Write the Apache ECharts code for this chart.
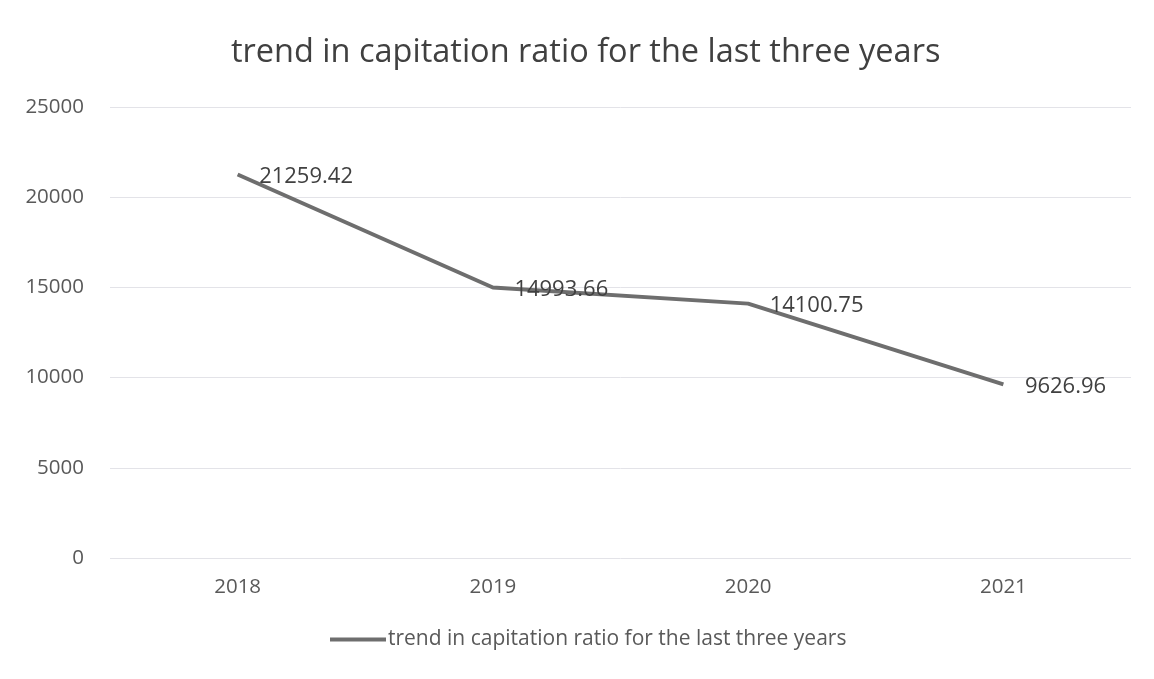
<!DOCTYPE html>
<html><head><meta charset="utf-8">
<script src="https://cdn.jsdelivr.net/npm/echarts@6/dist/echarts.min.js"></script>
<style>html,body{margin:0;padding:0;background:#fff}#c{width:1154px;height:679px}</style>
</head><body><div id="c"></div>
<script>
const categories = ['2018','2019','2020','2021'];
const values = [21259.42, 14993.66, 14100.75, 9626.96];
const seriesName = 'trend in capitation ratio for the last three years';
const titleText = 'trend in capitation ratio for the last three years';
const font = '"Open Sans", sans-serif';
const chart = echarts.init(document.getElementById('c'));
chart.setOption({
  animation: false,
  backgroundColor: '#fff',
  title: { text: titleText, left: 226, top: 31,
    textStyle: { fontFamily: font, fontSize: 32.5, fontWeight: 'normal', color: '#404040' } },
  grid: { left: 110, right: 23, top: 107, bottom: 121 },
  legend: { bottom: 24, left: 325, itemWidth: 56, itemHeight: 4, itemGap: 2,
    icon: 'rect', itemStyle: { color: '#6e6e6e', opacity: 1 },
    textStyle: { fontFamily: font, fontSize: 21, color: '#595959', padding: [0,0,0,-3] } },
  xAxis: { type: 'category', data: categories, boundaryGap: true,
    axisLine: { show: false }, axisTick: { show: false },
    axisLabel: { fontFamily: font, fontSize: 20.5, color: '#595959', margin: 19 } },
  yAxis: { type: 'value', min: 0, max: 25000, interval: 5000,
    axisLine: { show: false }, axisTick: { show: false },
    splitLine: { lineStyle: { color: '#e3e3e8', width: 1 } },
    axisLabel: { fontFamily: font, fontSize: 20.5, color: '#595959', margin: 26,
      formatter: v => String(v) } },
  series: [{
    name: seriesName, type: 'line', data: values, symbol: 'circle', symbolSize: 1, showSymbol: true,
    lineStyle: { color: '#6e6e6e', width: 4 }, itemStyle: { color: '#6e6e6e', opacity: 0 },
    label: { show: true, position: 'right', distance: 21, offset: [0, 2], fontFamily: font, fontSize: 22, color: '#404040', opacity: 1,
      formatter: p => values[p.dataIndex].toFixed(2) }
  }]
});
</script></body></html>
